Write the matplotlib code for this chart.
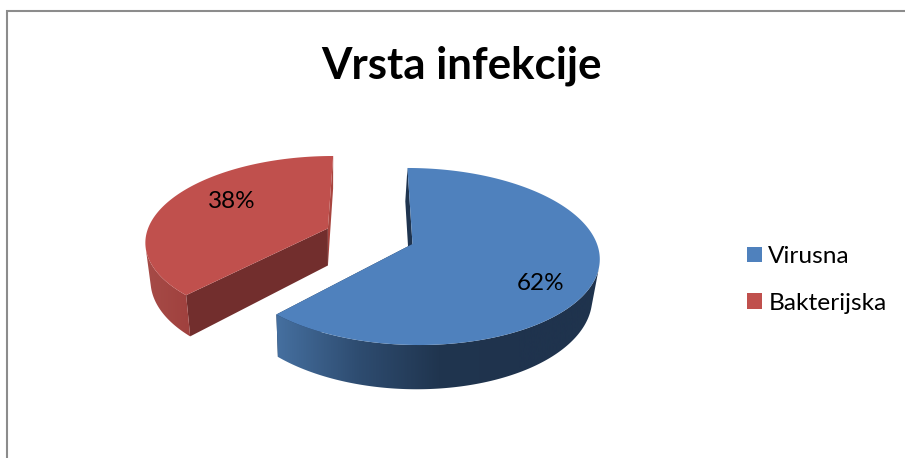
# -*- coding: utf-8 -*-
"""Vrsta infekcije -- exploded 3D style pie, drawn by hand in a pixel-sized axes."""

import numpy as np
import matplotlib
matplotlib.use("Agg")
import matplotlib.pyplot as plt
from matplotlib.colors import LinearSegmentedColormap
from matplotlib.patches import Patch, Polygon

plt.rcParams["font.family"] = ["Lato", "DejaVu Sans"]

# ---- data ----
title = "Vrsta infekcije"
categories = ["Virusna", "Bakterijska"]
values = [62, 38]
explode = [0.0, 0.5]

# ---- styles ----
top_colors = ["#4f81bd", "#c0504d"]
near_cut_colors = ["#1f344f", "#a8453f"]   # face at angle 0
far_cut_colors = ["#1f344f", "#722e2d"]    # face at the end of the previous slice
rim_cmaps = [
    LinearSegmentedColormap.from_list("b", ["#456f9f", "#2e4c70", "#20354f", "#1f334d"]),
    LinearSegmentedColormap.from_list("r", ["#a64b47", "#a0413e"]),
]
rim_x_ranges = [(278, 520), (147, 190)]
label_pos = [(541, 283), (232, 201)]

# perspective of the pie plane (unit circle -> pixels)
SX, SKEW, CX = 184.5, 52.5, 412.5
SY, CY, PERSP = 52.3, 244.0, 0.1412
DEPTH = 38.0


def project(u, v):
    w = 1 + PERSP * v
    return (SX * u + SKEW * v + CX) / w, (-SY * v + CY) / w


def drop(x, y, v):
    # same point on the lower face of the pie
    return x + (330 - x) * 0.028, y + DEPTH / (1 + PERSP * v)


fig = plt.figure(figsize=(9.05, 4.58), dpi=100, facecolor="white")
ax = fig.add_axes([0, 0, 1, 1])

# chart frame: only top and left are inside the crop
ax.plot([905, 6.5, 6.5], [10.5, 10.5, 458], color="#8c8c8c", lw=1.5, solid_joinstyle="miter")

fractions = np.array(values) / sum(values)
starts = np.concatenate([[0], np.cumsum(fractions)[:-1]]) * 2 * np.pi
mids = starts + fractions * np.pi

for i in range(len(values)):
    t = np.linspace(starts[i], starts[i] + fractions[i] * 2 * np.pi, 361)
    eu = explode[i] * np.sin(mids[i])
    ev = explode[i] * np.cos(mids[i])
    u, v = np.sin(t) + eu, np.cos(t) + ev
    x, y = project(u, v)
    x2, y2 = drop(x, y, v)
    ax_, ay_ = project(eu, ev)
    bx_, by_ = drop(ax_, ay_, ev)

    # radial cut faces
    for k, col in ((-1 if i else 0, near_cut_colors[i]), (0 if i else -1, far_cut_colors[i])):
        ax.add_patch(Polygon([(ax_, ay_), (x[k], y[k]), (x2[k], y2[k]), (bx_, by_)],
                             closed=True, fc=col, ec="none", zorder=2))

    # outer rim: only the part facing the viewer, horizontal gradient clipped to it
    front = np.gradient(x) * (y2 - y) - np.gradient(y) * (x2 - x) < 0
    rim = Polygon(np.column_stack([np.r_[x[front], x2[front][::-1]],
                                   np.r_[y[front], y2[front][::-1]]]),
                  closed=True, fc="none", ec="none", zorder=3)
    ax.add_patch(rim)
    lo, hi = rim_x_ranges[i]
    xs = np.linspace(x.min() - 2, x.max() + 2, 512)
    img = ax.imshow(np.clip((xs - lo) / (hi - lo), 0, 1).reshape(1, -1), cmap=rim_cmaps[i],
                    vmin=0, vmax=1, extent=(xs[0], xs[-1], 458, 0), aspect="auto", zorder=3)
    img.set_clip_path(rim)

    # top face
    ax.add_patch(Polygon(np.column_stack([np.r_[ax_, x], np.r_[ay_, y]]), closed=True,
                         fc=top_colors[i], ec="none", zorder=4))
    ax.text(label_pos[i][0], label_pos[i][1], f"{values[i]}%", fontsize=17.5,
            ha="center", va="center", color="black", zorder=5)

ax.set_xlim(0, 905)
ax.set_ylim(458, 0)
ax.axis("off")

ax.text(461, 78, title, fontsize=31.6, fontweight="bold", ha="center", va="baseline", color="black")

handles = [Patch(fc=c, ec="none") for c in top_colors]
ax.legend(handles, categories, loc="center left", bbox_to_anchor=(747, 280),
          bbox_transform=ax.transData, frameon=False, fontsize=17.6, handlelength=0.61,
          handleheight=0.61, handletextpad=0.26, labelspacing=1.05, borderpad=0.0,
          borderaxespad=0.0)

fig.savefig("out.png", dpi=100, facecolor="white")
plt.close(fig)
